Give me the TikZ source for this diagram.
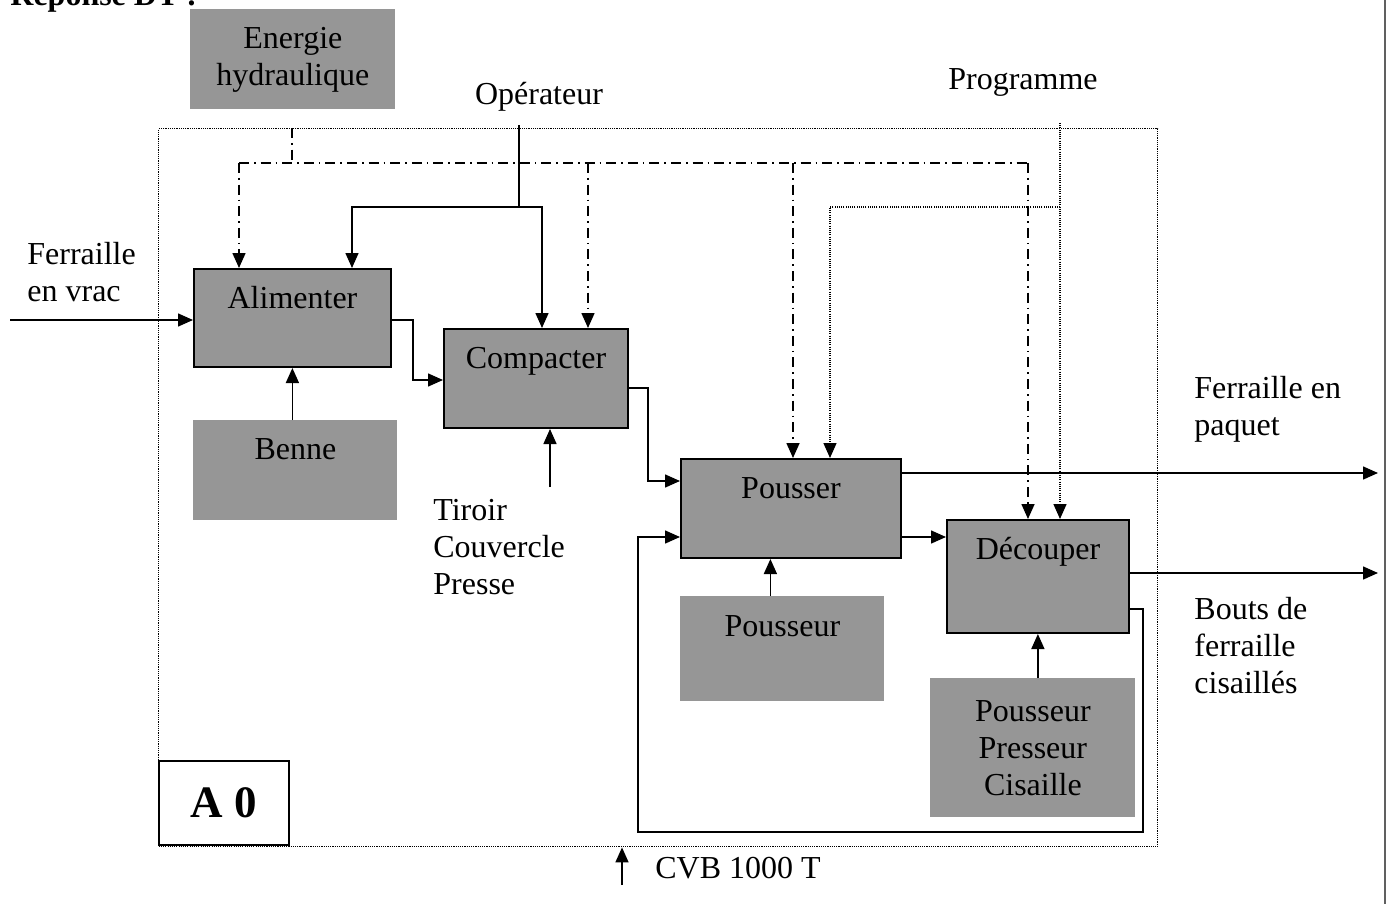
\documentclass[tikz,border=0pt]{standalone}
\usepackage{fontspec}
\setmainfont{Liberation Serif}
\usepackage{tikz}
\usetikzlibrary{arrows.meta,positioning}
\definecolor{boxgrey}{HTML}{969696}
\definecolor{edgegrey}{HTML}{606060}

\begin{document}
\begin{tikzpicture}[x=0.5pt,y=-0.5pt,
    font=\fontsize{16}{18.5}\selectfont,
    procbox/.style={draw,line width=1pt,fill=boxgrey,anchor=north west,inner sep=0pt},
    resbox/.style={fill=boxgrey,anchor=north west,inner sep=0pt,align=center},
    flow/.style={line width=0.75pt},
    arr/.style={-{Triangle[length=7.5pt,width=6.5pt]}},
    ctrl/.style={line width=0.8pt,dash pattern=on 5pt off 2.5pt on 0.8pt off 2.5pt},
    prog/.style={line width=0.7pt,dash pattern=on 0.55pt off 0.55pt},
    lbl/.style={inner sep=0pt,align=left}]
  \useasboundingbox (0,0) rectangle (1388,904);
  \draw[edgegrey,line width=0.8pt] (1385,0) -- (1385,904);
  \node[lbl,anchor=base west,font=\fontsize{16}{18.5}\selectfont\bfseries] (titre) at (10,6) {Réponse DT :};

  % Frame A0
  \node[draw,prog,anchor=north west,minimum width=499.5pt,minimum height=359pt,inner sep=0pt] (fr) at (158,128) {};
  \node[draw,line width=0.9pt,anchor=south west,minimum width=65pt,minimum height=42pt,inner sep=0pt,
        font=\fontsize{22.5}{26}\selectfont\bfseries] (azero) at (158,846) {A 0};

  % Activities
  \node[procbox,minimum width=98.5pt,minimum height=49pt] (alim) at (193,268) {};
  \node[procbox,minimum width=92pt,minimum height=49.5pt] (comp) at (443,328) {};
  \node[procbox,minimum width=110pt,minimum height=49.5pt] (pous) at (680,458) {};
  \node[procbox,minimum width=91pt,minimum height=56.5pt] (dec) at (946,519) {};
  \node[lbl,anchor=base] (alimtxt) at ([yshift=-20pt]alim.north) {Alimenter};
  \node[lbl,anchor=base] (comptxt) at ([yshift=-20pt]comp.north) {Compacter};
  \node[lbl,anchor=base] (poustxt) at ([yshift=-20pt]pous.north) {Pousser};
  \node[lbl,anchor=base] (dectxt) at ([yshift=-20pt]dec.north) {Découper};

  % Supports
  \node[resbox,minimum width=102.5pt,minimum height=50pt] (ener) at (190,9) {Energie\\hydraulique};
  \node[resbox,minimum width=102pt,minimum height=50pt] (benne) at (193,420) {};
  \node[resbox,minimum width=102pt,minimum height=52.5pt] (pousr) at (680,596) {};
  \node[resbox,minimum width=102.5pt,minimum height=69.5pt] (ppc) at (930,678) {Pousseur\\Presseur\\Cisaille};
  \node[lbl,anchor=base] (bennetxt) at ([yshift=-19.5pt]benne.north) {Benne};
  \node[lbl,anchor=base] (pousrtxt) at ([yshift=-20pt]pousr.north) {Pousseur};

  % Labels
  \node[lbl,anchor=west] (fvrac) at (27,272) {Ferraille\\en vrac};
  \node[lbl] (oper) at (539,97) {Opérateur};
  \node[lbl] (prgm) at (1023,82) {Programme};
  \node[lbl,anchor=west] (tiroir) at (433,547) {Tiroir\\Couvercle\\Presse};
  \node[lbl,anchor=west] (fpaq) at (1194,409) {Ferraille en\\paquet};
  \node[lbl,anchor=west] (bouts) at (1194,646) {Bouts de\\ferraille\\cisaillés};
  \node[lbl,anchor=west] (cvbtxt) at (655,868) {CVB 1000 T};

  % Energie (dash-dot)
  \coordinate (e0) at (292,128);
  \coordinate (e1) at (292,163);
  \coordinate (ea) at (239,163);
  \coordinate (ec) at (588,163);
  \coordinate (ep) at (793,163);
  \coordinate (ed) at (1028,163);
  \draw[ctrl] (e0) -- (e1);
  \draw[ctrl] (ea) -- (ed);
  \draw[ctrl,arr] (ea) -- (ea |- alim.north);
  \draw[ctrl,arr] (ec) -- (ec |- comp.north);
  \draw[ctrl,arr] (ep) -- (ep |- pous.north);
  \draw[ctrl,arr] (ed) -- (ed |- dec.north);

  % Operateur
  \coordinate (o0) at (519,125);
  \coordinate (o1) at (519,207);
  \coordinate (oa) at (352,207);
  \coordinate (oc) at (542,207);
  \draw[flow] (o0) -- (o1);
  \draw[flow,arr] (oc) -- (oa) -- (oa |- alim.north);
  \draw[flow,arr] (o1) -- (oc) -- (oc |- comp.north);

  % Programme (dotted)
  \coordinate (p0) at (1060,123);
  \coordinate (p1) at (1060,207);
  \coordinate (pp) at (830,207);
  \draw[prog,arr] (p0) -- (p0 |- dec.north);
  \draw[prog,arr] (p1) -- (pp) -- (pp |- pous.north);

  % Flows
  \coordinate (fin) at (10,320);
  \coordinate (ac) at (413,380);
  \coordinate (cp0) at (648,388);
  \coordinate (cp1) at (648,481);
  \coordinate (lp) at (638,537);
  \coordinate (dl) at (1143,609);
  \coordinate (lb) at (638,832);
  \coordinate (outpq) at (1378,473);
  \coordinate (outbt) at (1378,573);
  \coordinate (cvb) at (622,885);
  \draw[flow,arr] (fin) -- (fin -| alim.west);
  \draw[flow,arr] (alim.east |- fin) -| (ac) -- (ac -| comp.west);
  \draw[flow,arr] (comp.east |- cp0) -- (cp0) -- (cp1) -- (cp1 -| pous.west);
  \draw[flow,arr] (pous.east |- lp) -- (dec.west |- lp);
  \draw[flow,arr] (dec.east |- dl) -- (dl) |- (lb) |- (pous.west |- lp);
  \draw[flow,arr] (pous.east |- outpq) -- (outpq);
  \draw[flow,arr] (dec.east |- outbt) -- (outbt);

  % Mechanisms
  \draw[flow,arr] ([xshift=-1.5pt]benne.north) -- ([xshift=-1.5pt]benne.north |- alim.south);
  \draw[flow,arr] ([xshift=-6pt]pousr.north) -- ([xshift=-6pt]pousr.north |- pous.south);
  \draw[flow,arr] ([xshift=2.5pt]ppc.north) -- ([xshift=2.5pt]ppc.north |- dec.south);
  \coordinate (tir) at (550,487);
  \draw[flow,arr] (tir) -- (tir |- comp.south);
  \draw[flow,arr] (cvb) -- (cvb |- fr.south);
\end{tikzpicture}
\end{document}
